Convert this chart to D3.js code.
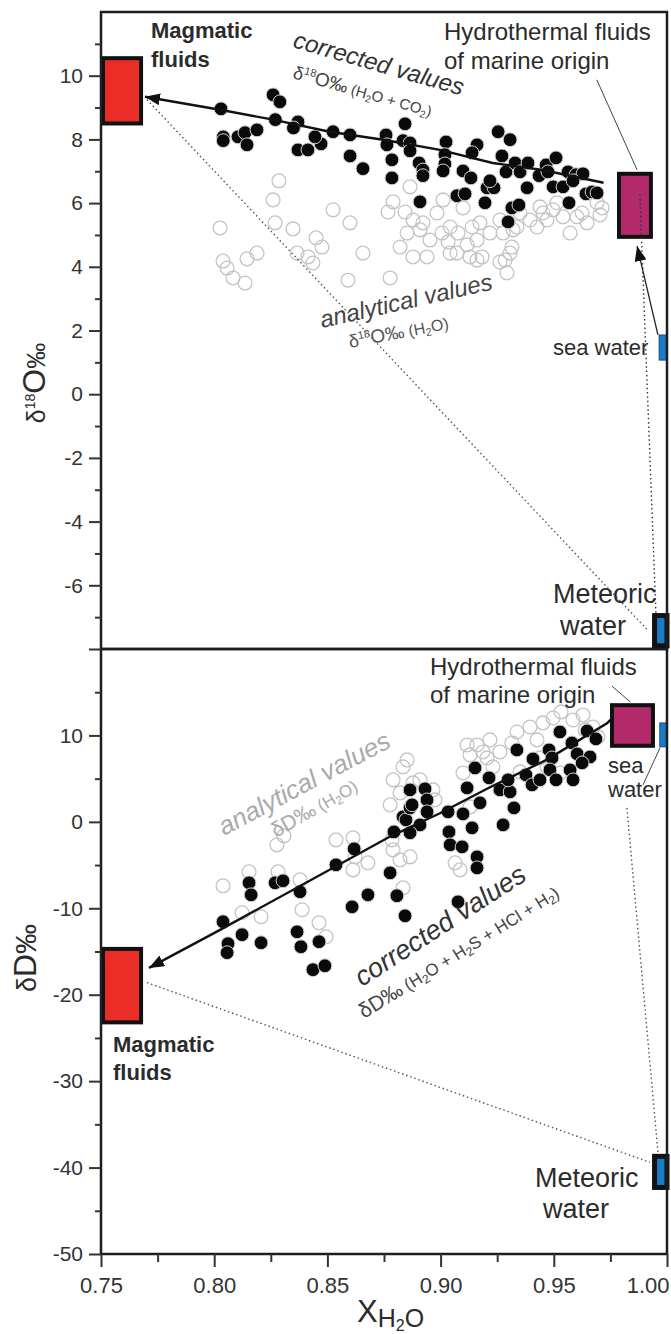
<!DOCTYPE html>
<html><head><meta charset="utf-8">
<script src="https://cdn.jsdelivr.net/npm/d3@7/dist/d3.min.js"></script>
<style>body{margin:0;background:#fff}svg{display:block}text{font-family:"Liberation Sans",Arial,Helvetica,sans-serif}</style>
</head><body><svg id="c" width="671" height="1334"></svg>
<script>
// ---------- DATA ----------
const xTicks = [0.75, 0.80, 0.85, 0.90, 0.95, 1.00];
const xMinorTicks = [0.775, 0.825, 0.875, 0.925, 0.975];
const topYTicks = [-8, -6, -4, -2, 0, 2, 4, 6, 8, 10];
const topYLabels = [-6, -4, -2, 0, 2, 4, 6, 8, 10];
const topYMinor = [-7, -5, -3, -1, 1, 3, 5, 7, 9, 11];
const botYTicks = [-50, -40, -30, -20, -10, 0, 10];
const botYMinor = [-45, -35, -25, -15, -5, 5, 15];

// δ18O corrected values (H2O + CO2): [X_H2O, δ18O]
const topCorrected = [[.803,8.96],[.826,9.40],[.829,9.18],[.827,8.62],[.837,8.55],[.835,8.36],[.804,8.08],[.804,7.96],[.8105,8.08],[.8136,8.21],[.8145,7.83],[.8189,8.30],[.837,7.67],[.8414,7.67],[.8472,7.86],[.8445,8.08],[.8525,8.24],[.86,8.14],[.86,7.48],[.8657,7.08],[.8759,8.14],[.8763,7.83],[.8785,7.36],[.8785,6.79],[.8843,8.49],[.8834,7.96],[.8865,7.89],[.8865,7.64],[.8909,6.04],[.8905,7.26],[.8922,7.04],[.8922,6.86],[.9024,7.92],[.9019,7.52],[.9019,7.23],[.9011,7.01],[.9072,6.23],[.9108,6.29],[.9099,7.01],[.9134,6.79],[.9161,7.83],[.9139,7.58],[.9196,6.01],[.9205,6.48],[.9236,6.48],[.9218,6.70],[.9254,8.24],[.9307,7.99],[.9271,7.48],[.9289,6.98],[.9329,7.26],[.9351,6.98],[.9386,7.26],[.9382,6.48],[.9315,5.85],[.9298,5.41],[.9346,5.94],[.9435,6.86],[.9466,7.20],[.951,7.42],[.9474,6.98],[.9497,6.51],[.9541,6.51],[.9563,6.98],[.9598,6.89],[.9629,6.92],[.9585,6.70],[.9567,6.01],[.9642,6.29],[.9669,6.35],[.9691,6.32]];
// δ18O analytical values (H2O)
const topAnalytical = [[.8286,6.70],[.826,6.10],[.8525,5.79],[.8026,5.22],[.8269,5.38],[.8348,5.19],[.845,4.91],[.8476,4.62],[.8039,4.18],[.8145,4.25],[.8189,4.43],[.8366,4.43],[.8414,4.31],[.8436,4.12],[.8057,3.96],[.8083,3.65],[.8136,3.49],[.86,5.38],[.8657,4.43],[.8591,3.58],[.8768,5.72],[.879,6.04],[.8843,5.72],[.8878,5.47],[.8821,4.62],[.8777,3.65],[.8852,5.06],[.8909,5.16],[.8953,4.84],[.8878,4.31],[.894,4.31],[.9006,5.06],[.9033,4.78],[.9077,5.06],[.9117,4.69],[.9161,4.84],[.9072,4.43],[.913,4.31],[.9183,4.31],[.9218,5.06],[.9276,5.06],[.9315,4.62],[.9285,4.21],[.9337,5.25],[.9395,5.47],[.9452,5.69],[.9514,6.01],[.9351,5.69],[.9603,5.57],[.9572,5.06],[.9647,5.38],[.9691,6.01],[.9713,5.85],[.8865,6.51],[.8922,5.38],[.9011,6.10],[.8984,5.69],[.9042,5.25],[.9099,5.85],[.9139,5.25],[.9174,5.38],[.9262,5.47],[.932,5.16],[.9307,4.43],[.9262,4.15],[.9439,5.88],[.947,5.47],[.9426,5.25],[.9497,5.79],[.9541,5.57],[.9625,5.69],[.9704,5.63],[.9042,4.43],[.9293,3.81],[.9161,4.21]];
// δD corrected values (H2O + H2S + HCl + H2)
const botCorrected = [[.8039,-11.56],[.8061,-14.10],[.8057,-15.14],[.8123,-13.06],[.8154,-7.05],[.8163,-8.44],[.8207,-13.99],[.8269,-7.05],[.8304,-6.82],[.8379,-8.09],[.8366,-12.72],[.8383,-14.45],[.8463,-13.87],[.8436,-17.11],[.8489,-16.65],[.8538,-4.97],[.8618,-3.12],[.8609,-9.83],[.8679,-8.44],[.8777,-5.90],[.8794,-1.16],[.8834,0.58],[.8807,-8.55],[.8843,-10.87],[.8847,0.23],[.8865,1.62],[.8865,3.70],[.8931,3.82],[.894,2.54],[.894,1.16],[.8909,-0.35],[.8865,-1.27],[.9033,1.16],[.9099,0.92],[.9037,-1.16],[.9042,-2.66],[.9095,-2.89],[.9139,-0.69],[.9161,-4.05],[.9161,-5.32],[.9077,-9.25],[.9117,3.93],[.9152,6.24],[.9174,2.20],[.9214,5.09],[.9276,-0.35],[.9324,1.62],[.9262,3.70],[.9307,3.47],[.9337,8.32],[.9298,4.86],[.9377,5.43],[.9404,4.28],[.9408,7.28],[.9479,8.32],[.9492,7.40],[.9483,6.01],[.9527,10.40],[.951,4.86],[.958,9.13],[.9603,7.86],[.9572,6.01],[.9585,4.86],[.9647,10.52],[.9686,9.60],[.966,7.51],[.9625,6.82],[.9439,4.86],[.8874,1.97]];
// δD analytical values (H2O)
const botAnalytical = [[.8039,-7.40],[.8154,-5.78],[.8282,-5.78],[.8277,-2.66],[.8308,-1.62],[.8379,-6.71],[.8207,-10.98],[.8123,-10.52],[.8388,-10.17],[.8463,-11.68],[.8494,-13.29],[.8538,-2.08],[.8613,-1.85],[.8613,-5.55],[.8679,-4.74],[.8777,1.97],[.8821,3.35],[.8834,6.36],[.879,-3.24],[.8622,-4.05],[.8785,-2.08],[.8852,7.17],[.879,4.86],[.8878,4.51],[.8975,2.54],[.9064,-4.74],[.913,1.73],[.9117,8.90],[.9161,8.90],[.913,7.75],[.9218,9.48],[.9262,8.09],[.9205,7.40],[.9231,6.36],[.9315,9.13],[.9337,10.40],[.9395,10.98],[.9452,11.45],[.9497,12.02],[.9532,12.72],[.9426,9.48],[.9585,11.79],[.9629,12.37],[.9673,10.98],[.9695,9.83],[.8834,-7.63],[.8909,4.86],[.8966,3.70],[.9099,5.66],[.9638,10.64],[.9439,7.40],[.947,6.36],[.9527,5.66],[.9351,5.78],[.8865,-4.05],[.9086,-5.55],[.8821,-4.39],[.9187,8.09]];

// trend (corrected-value) curves, drawn from the data end toward the magmatic end-member
const topTrend = [[.972,6.64],[.945,7.04],[.923,7.26],[.8997,7.67],[.8746,7.99],[.851,8.24],[.826,8.62],[.8026,8.93],[.7694,9.34]];
const botTrend = [[.975,11.8],[.9735,11.4],[.947,7.2],[.9218,4.0],[.8997,1.0],[.8777,-1.7],[.854,-5.1],[.8026,-12.5],[.7712,-16.9]];

// end-member boxes: [x0, x1, y0, y1]
const topBoxes = {
  magmatic: [.7509, .7677, 8.5, 10.55],
  hydro: [.9788, .9929, 4.94, 6.92],
  sea: [.9965, 1.0, 1.07, 1.86],
  meteoric: [.9945, 1.0, -7.9, -6.95]
};
const botBoxes = {
  magmatic: [.7509, .7677, -23.2, -14.7],
  hydro: [.9757, .9938, 8.8, 13.5],
  sea: [.9968, 1.0, 8.67, 11.45],
  meteoric: [.9945, 1.0, -42.3, -38.7]
};
// mixing / connecting lines
const topDotted = [[[.7703, 9.25], [.9916, -7.42]], [[.9951, -6.86], [.988, 6.26]]];
const botDotted = [[[.7703, -18.6], [.9925, -39.4]], [[.996, -38.2], [.9823, 1.62]]];
const topSeaArrow = [[.996, 1.86], [.9868, 4.65]];
const topLeader = [[.969, 9.87], [.9868, 7.04]];
const botLeader = [[.9757, 15.7], [.9837, 13.9]];
const botSeaLeader = [[.9969, 8.55], [.9894, 4.28]];

// ---------- LAYOUT ----------
const svg = d3.select("#c");
const x = d3.scaleLinear([0.75, 1.0], [101, 667]);
const yT = d3.scaleLinear([-8, 12], [649, 12]);
const yB = d3.scaleLinear([-50, 20], [1254, 649]);
const TXT = "#2b2b2b";
const R = 6.9;

const defs = svg.append("defs");
defs.append("marker").attr("id", "ah").attr("viewBox", "0 -6 15 12")
  .attr("refX", 15).attr("refY", 0).attr("markerWidth", 15).attr("markerHeight", 12)
  .attr("markerUnits", "userSpaceOnUse").attr("orient", "auto")
  .append("path").attr("d", "M0,-6L15,0L0,6Z").attr("fill", "#111");

const lineOf = y => d3.line().x(d => x(d[0])).y(d => y(d[1]));

function panel(y, ana, dotted) {
  const g = svg.append("g");
  g.append("g").selectAll("circle").data(ana).join("circle")
    .attr("cx", d => x(d[0])).attr("cy", d => y(d[1])).attr("r", R)
    .attr("fill", "none").attr("stroke", "#c4c4c4").attr("stroke-width", 1.3);
  dotted.forEach(seg => g.append("path").attr("d", lineOf(y)(seg))
    .attr("stroke", "#555").attr("stroke-width", 1.4).attr("stroke-dasharray", "1.5,2.8").attr("fill", "none"));
  return g;
}

function box(g, y, b, fill, sw) {
  g.append("rect").attr("x", x(b[0])).attr("y", y(b[3]))
    .attr("width", x(b[1]) - x(b[0])).attr("height", y(b[2]) - y(b[3]))
    .attr("fill", fill).attr("stroke", sw ? "#111" : "#0d3e6e").attr("stroke-width", sw || 0.8);
}

function rich(sel, parts) {
  let cur = 0;
  parts.forEach(p => {
    const sh = p.sh || 0;
    sel.append("tspan").attr("font-size", p.s).attr("dy", sh - cur).text(p.t);
    cur = sh;
  });
}

function filled(g, y, data) {
  g.append("g").selectAll("circle").data(data).join("circle")
    .attr("cx", d => x(d[0])).attr("cy", d => y(d[1])).attr("r", R)
    .attr("fill", "#0a0a0a").attr("stroke", "#d4d4d4").attr("stroke-width", 1);
}

// ----- TOP PANEL -----
const gT = panel(yT, topAnalytical, [topDotted[0]]);
box(gT, yT, topBoxes.magmatic, "#ea2d27", 4);
box(gT, yT, topBoxes.hydro, "#b22a6a", 4);
box(gT, yT, topBoxes.sea, "#1a7bc6");
box(gT, yT, topBoxes.meteoric, "#1a7bc6", 5);
gT.append("path").attr("d", lineOf(yT)(topDotted[1]))
  .attr("stroke", "#333").attr("stroke-width", 1.4).attr("stroke-dasharray", "1.5,2.8").attr("fill", "none");
gT.append("path").attr("d", lineOf(yT)(topSeaArrow))
  .attr("stroke", "#222").attr("stroke-width", 1.3).attr("fill", "none").attr("marker-end", "url(#ah)");
gT.append("path").attr("d", lineOf(yT)(topLeader))
  .attr("stroke", "#444").attr("stroke-width", 1).attr("fill", "none");
filled(gT, yT, topCorrected);
gT.append("path").attr("d", lineOf(yT)(topTrend))
  .attr("stroke", "#111").attr("stroke-width", 2.4).attr("fill", "none").attr("marker-end", "url(#ah)");

// ----- BOTTOM PANEL -----
const gB = panel(yB, botAnalytical, botDotted);
box(gB, yB, botBoxes.magmatic, "#ea2d27", 4);
box(gB, yB, botBoxes.hydro, "#b22a6a", 4);
box(gB, yB, botBoxes.sea, "#1a7bc6");
box(gB, yB, botBoxes.meteoric, "#1a7bc6", 5);
gB.append("path").attr("d", lineOf(yB)(botLeader)).attr("stroke", "#444").attr("stroke-width", 1).attr("fill", "none");
gB.append("path").attr("d", lineOf(yB)(botSeaLeader)).attr("stroke", "#444").attr("stroke-width", 1).attr("fill", "none");
filled(gB, yB, botCorrected);
gB.append("path").attr("d", lineOf(yB)(botTrend))
  .attr("stroke", "#111").attr("stroke-width", 2.4).attr("fill", "none").attr("marker-end", "url(#ah)");

// ----- FRAMES & AXES -----
const frame = svg.append("g").attr("fill", "none").attr("stroke", "#1e1e1e").attr("stroke-width", 2.5);
frame.append("rect").attr("x", x(0.75)).attr("y", yT(12)).attr("width", x(1) - x(0.75)).attr("height", yT(-8) - yT(12));
frame.append("rect").attr("x", x(0.75)).attr("y", yB(20)).attr("width", x(1) - x(0.75)).attr("height", yB(-50) - yB(20));

function styleAxis(g) {
  g.select(".domain").remove();
  g.selectAll("line").attr("stroke", "#333").attr("stroke-width", 2);
  g.selectAll("text").attr("fill", "#333").attr("font-size", 21).attr("font-family", '"Liberation Sans",Arial,sans-serif');
}
svg.append("g").attr("transform", `translate(${x(0.75)},0)`)
  .call(d3.axisLeft(yT).tickValues(topYTicks).tickSize(12).tickPadding(6).tickFormat(d => topYLabels.includes(d) ? String(d) : ""))
  .call(styleAxis);
svg.append("g").attr("transform", `translate(${x(0.75)},0)`)
  .call(d3.axisLeft(yT).tickValues(topYMinor).tickSize(6).tickFormat(""))
  .call(styleAxis);
svg.append("g").attr("transform", `translate(${x(0.75)},0)`)
  .call(d3.axisLeft(yB).tickValues(botYTicks).tickSize(12).tickPadding(6).tickFormat(d => String(d)))
  .call(styleAxis);
svg.append("g").attr("transform", `translate(${x(0.75)},0)`)
  .call(d3.axisLeft(yB).tickValues(botYMinor).tickSize(6).tickFormat(""))
  .call(styleAxis);
svg.append("g").attr("transform", `translate(0,${yB(-50)})`)
  .call(d3.axisBottom(x).tickValues(xTicks).tickSize(13).tickPadding(10).tickFormat(d3.format(".2f")))
  .call(styleAxis)
  .call(g => g.selectAll("text").attr("font-size", 22))
  .call(g => g.selectAll(".tick").filter(d => d === 1).select("text").attr("text-anchor", "end").attr("x", 2));
svg.append("g").attr("transform", `translate(0,${yB(-50)})`)
  .call(d3.axisBottom(x).tickValues(xMinorTicks).tickSize(8).tickFormat(""))
  .call(styleAxis);

// axis titles
const xt = svg.append("text").attr("x", 357).attr("y", 1322).attr("fill", TXT);
rich(xt, [{t: "X", s: 31}, {t: "H", s: 25, sh: 5}, {t: "2", s: 16, sh: 9}, {t: "O", s: 25, sh: 5}]);
const yt1 = svg.append("text").attr("transform", "translate(45,383) rotate(-90)").attr("text-anchor", "middle").attr("fill", TXT);
rich(yt1, [{t: "δ", s: 25}, {t: "18", s: 14, sh: -10}, {t: "O", s: 32}, {t: "‰", s: 26}]);
const yt2 = svg.append("text").attr("transform", "translate(36,958) rotate(-90)").attr("text-anchor", "middle").attr("fill", TXT);
rich(yt2, [{t: "δ", s: 27}, {t: "D", s: 32}, {t: "‰", s: 30}]);

// ----- ANNOTATIONS -----
function label(xp, yp, lines, size, opts = {}) {
  lines.forEach((l, i) => svg.append("text").attr("x", xp[i] ?? xp[0]).attr("y", yp[i])
    .attr("font-size", size).attr("font-weight", opts.bold ? "bold" : null).attr("fill", opts.fill || TXT).text(l));
}
label([151], [38, 67], ["Magmatic", "fluids"], 22, {bold: true});
label([444], [40, 69], ["Hydrothermal fluids", "of marine origin"], 24);
label([553], [355], ["sea water"], 22);
label([553, 560], [603, 635], ["Meteoric", "water"], 27);
label([113], [1052, 1080], ["Magmatic", "fluids"], 22, {bold: true});
label([430], [675, 703], ["Hydrothermal fluids", "of marine origin"], 24);
label([608], [773, 797], ["sea", "water"], 22);
label([535, 543], [1187, 1218], ["Meteoric", "water"], 27);

function rot(tx, ty, a, parts, fill, italic) {
  const t = svg.append("text").attr("transform", `translate(${tx},${ty}) rotate(${a})`).attr("fill", fill)
    .attr("font-style", italic ? "italic" : null);
  rich(t, parts);
}
rot(292, 47, 16, [{t: "corrected values", s: 24}], "#333", true);
rot(292, 78, 15.7, [{t: "δ", s: 18}, {t: "18", s: 11, sh: -7}, {t: "O‰", s: 19}, {t: " (H", s: 15}, {t: "2", s: 10, sh: 3}, {t: "O + CO", s: 15}, {t: "2", s: 10, sh: 3}, {t: ")", s: 15}], "#444");
rot(322, 328, -12.7, [{t: "analytical values", s: 24}], "#444", true);
rot(350, 348, -11, [{t: "δ", s: 18}, {t: "18", s: 11, sh: -7}, {t: "O‰", s: 19}, {t: " (H", s: 16}, {t: "2", s: 11, sh: 3}, {t: "O)", s: 16}], "#555");
rot(224, 836, -28, [{t: "analytical values", s: 26}], "#aaa", true);
rot(276, 838, -30, [{t: "δD‰", s: 21}, {t: " (H", s: 17}, {t: "2", s: 12, sh: 3}, {t: "O)", s: 17}], "#aaa");
rot(362, 987, -33, [{t: "corrected values", s: 27}], "#333", true);
rot(364, 1019, -32, [{t: "δD‰", s: 21}, {t: " (H", s: 17}, {t: "2", s: 12, sh: 3}, {t: "O + H", s: 17}, {t: "2", s: 12, sh: 3}, {t: "S + HCl + H", s: 17}, {t: "2", s: 12, sh: 3}, {t: ")", s: 17}], "#444");
</script></body></html>
